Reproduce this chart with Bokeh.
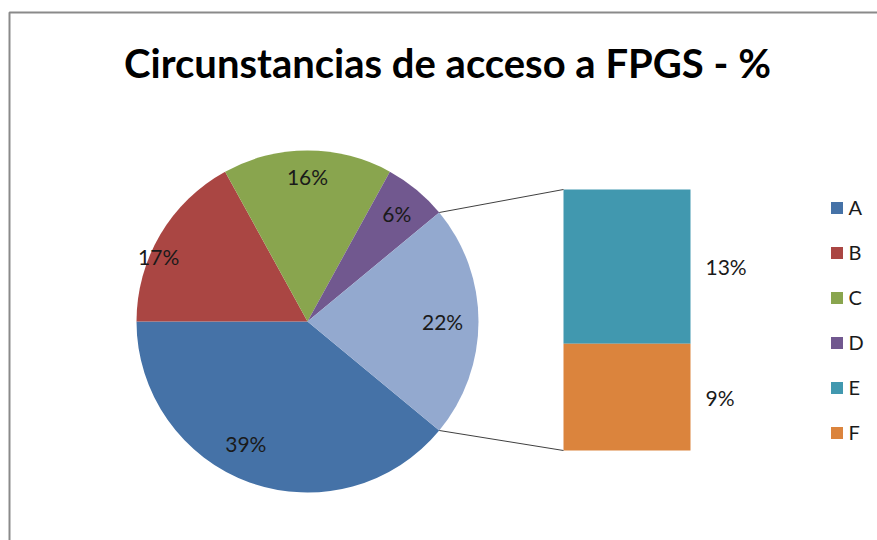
import numpy as np
from bokeh.plotting import figure
from bokeh.models import Range1d, ColumnDataSource, Legend, LegendItem
from bokeh.core.properties import value
from bokeh.embed import file_html
from bokeh.resources import INLINE

# ---- data ----
title_text = "Circunstancias de acceso a FPGS - %"
pie_categories = ["A", "B", "C", "D"]
pie_shares = [39, 17, 16, 6]
bar_categories = ["E", "F"]
bar_shares = [13, 9]
other_share = sum(bar_shares)

# ---- styles / layout ----
pie_colors = ["#4572A7", "#AA4643", "#89A54E", "#71588F"]
other_color = "#93A9CF"
bar_colors = ["#4198AF", "#DB843D"]
FONT = "Lato"
TXT = "#1a1a1a"

W, H = 877, 540
def Y(img_y):
    return H - img_y

p = figure(width=W, height=H, x_range=Range1d(0, W), y_range=Range1d(0, H),
           output_backend="svg", toolbar_location=None,
           x_axis_location=None, y_axis_location=None, min_border=0)
p.grid.visible = False
p.outline_line_color = None
p.background_fill_color = "white"

# border of the chart area
p.line([9, 9, 877], [Y(541), Y(12), Y(12)], line_color="#8a8a8a", line_width=2)

# title
p.text(x=[447], y=[Y(62)], text=[title_text], text_font=value(FONT),
       text_font_style="bold", text_font_size="40px", text_color="black",
       text_align="center", text_baseline="middle")

# ---- pie ----
cx, cy, R = 307, Y(321), 171
vals = pie_shares + [other_share]
total = float(sum(vals))
start0 = -other_share / total * np.pi  # other slice centered on the right
cum = np.concatenate([[0], np.cumsum(vals)]) / total * 2 * np.pi
starts = start0 - cum[:-1]
ends = start0 - cum[1:]
src = ColumnDataSource(dict(start=starts, end=ends, color=pie_colors + [other_color]))
wr = p.wedge(x=cx, y=cy, radius=R, start_angle="start", end_angle="end",
             direction="clock", fill_color="color", line_color=None, source=src)

label_r = [0.80, 0.95, 0.85, 0.82, 0.79]
label_nudge = np.radians([-7, 7, 0, 0, 0])
mids = (starts + ends) / 2 + label_nudge
lx = cx + R * np.array(label_r) * np.cos(mids)
ly = cy + R * np.array(label_r) * np.sin(mids)
ltxt = ["%d%%" % v for v in vals]
p.text(x=lx, y=ly, text=ltxt, text_font=value(FONT), text_font_size="21px",
       text_color=TXT, text_align="center", text_baseline="middle")

# ---- bar of the "other" slice ----
bx0, bx1 = 563, 690
by_bot, by_top = Y(450), Y(189)
k = (by_top - by_bot) / other_share
tops_rev = by_bot + np.cumsum(bar_shares[::-1]) * k
bots_rev = np.concatenate([[by_bot], tops_rev[:-1]])
tops = tops_rev[::-1]
bots = bots_rev[::-1]
bsrc = ColumnDataSource(dict(top=tops, bottom=bots, color=bar_colors))
br = p.quad(left=bx0, right=bx1, top="top", bottom="bottom", fill_color="color",
            line_color=None, source=bsrc)
p.text(x=[705, 705], y=(tops + bots) / 2, text=["%d%%" % v for v in bar_shares],
       text_font=value(FONT), text_font_size="21px", text_color=TXT,
       text_align="left", text_baseline="middle")

# connector lines
a_top, a_bot = start0 + 2 * np.pi * other_share / total, start0
p.segment(x0=[cx + R * np.cos(a_top), cx + R * np.cos(a_bot)],
          y0=[cy + R * np.sin(a_top), cy + R * np.sin(a_bot)],
          x1=[bx0, bx0], y1=[by_top, by_bot], line_color="#404040", line_width=1)

# ---- legend ----
items = [LegendItem(label=c, renderers=[wr], index=i) for i, c in enumerate(pie_categories)]
items += [LegendItem(label=c, renderers=[br], index=i) for i, c in enumerate(bar_categories)]
legend = Legend(items=items, location=(828.5, 95.5), orientation="vertical",
                glyph_width=15, glyph_height=15, label_height=25, spacing=20,
                label_standoff=5, padding=0, margin=0, border_line_color=None,
                background_fill_alpha=0, label_text_font=FONT,
                label_text_font_size="20px", label_text_color=TXT)
p.add_layout(legend, "center")

open("out.html", "w").write(file_html(p, INLINE))
